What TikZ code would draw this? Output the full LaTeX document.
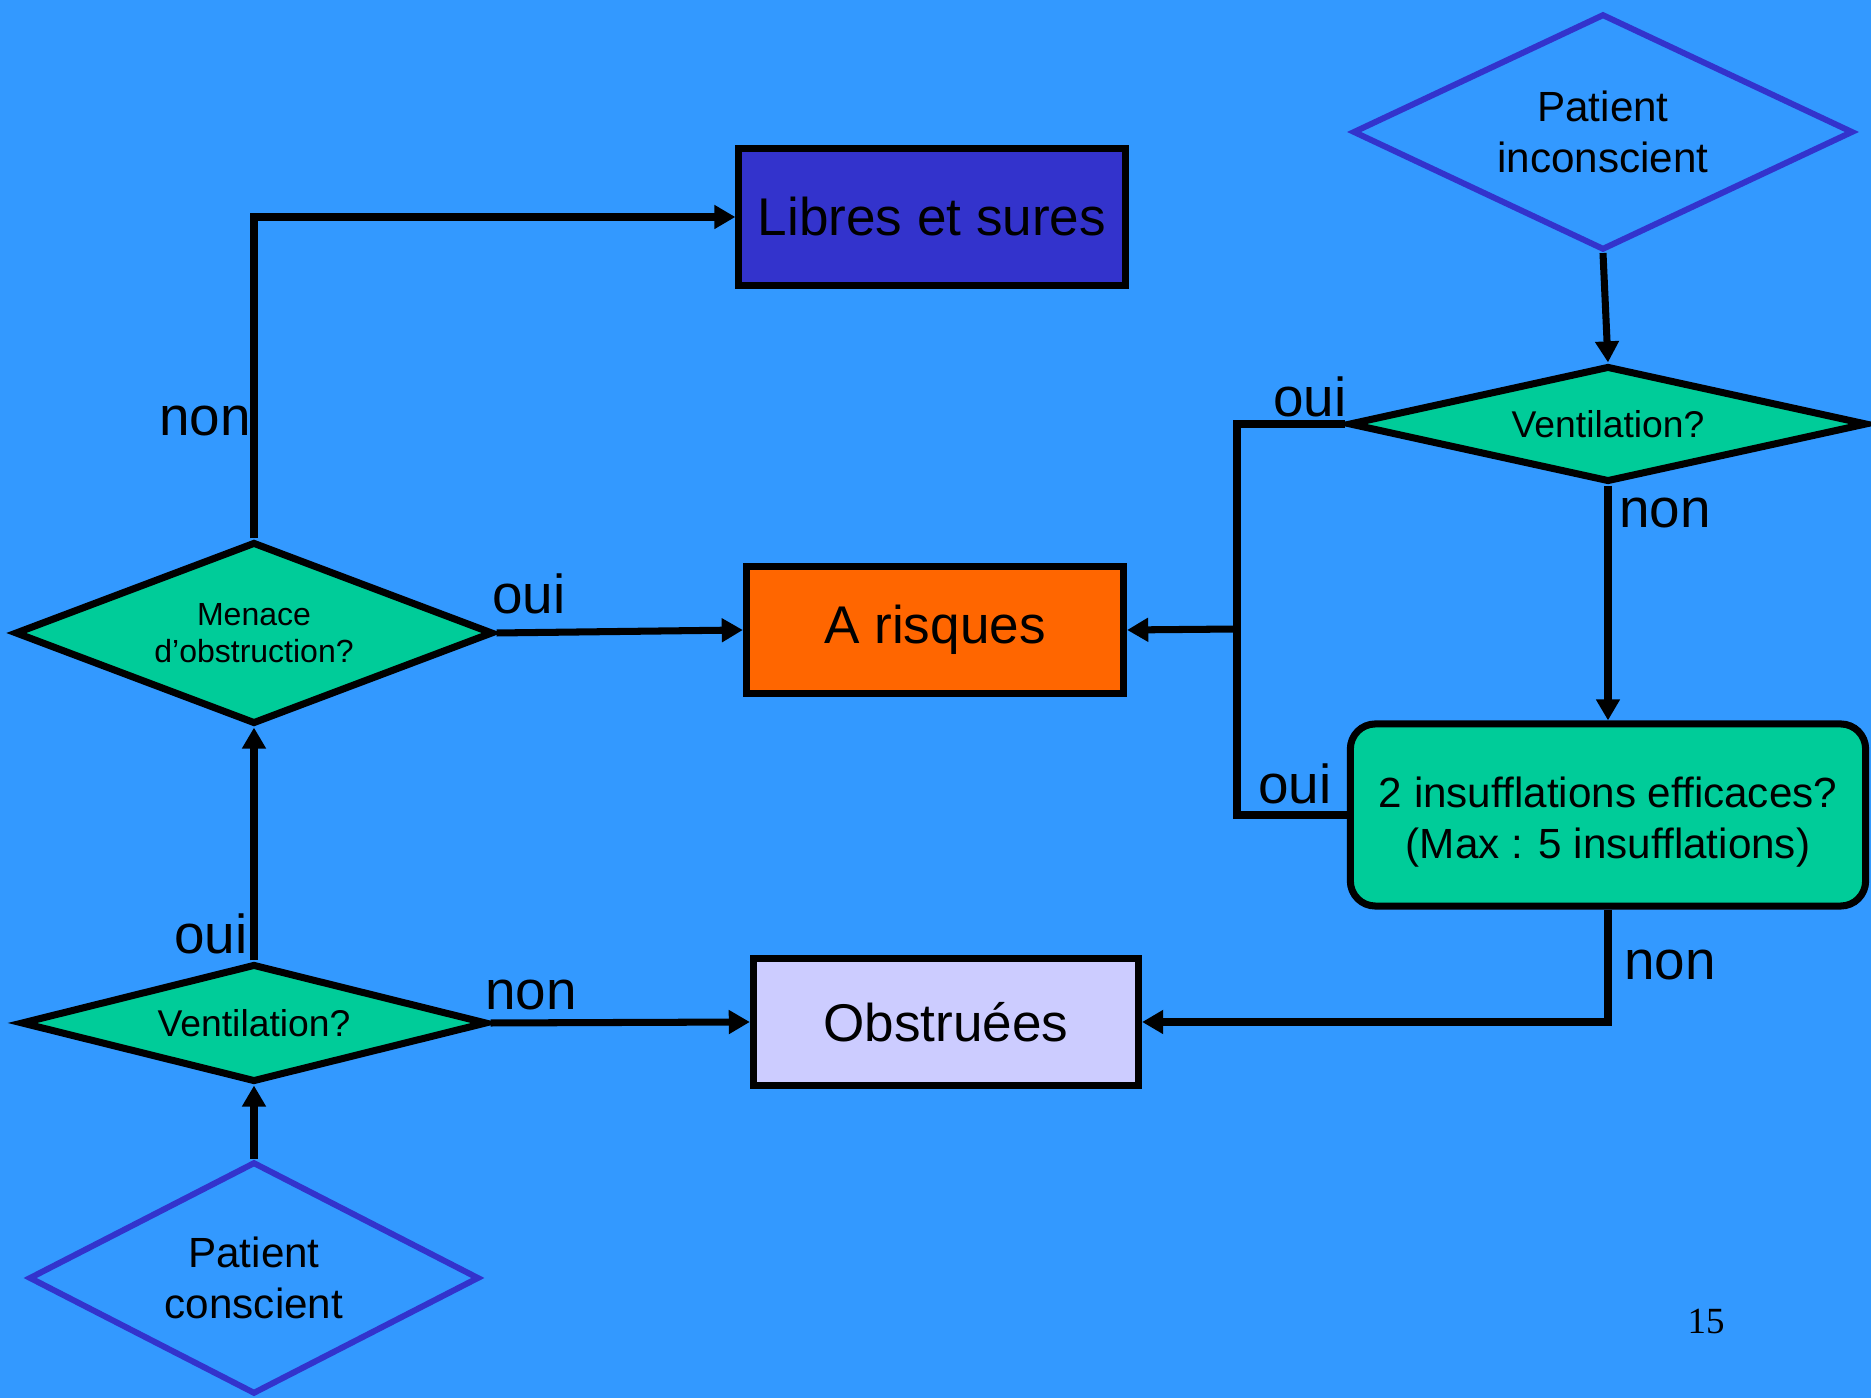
\documentclass[tikz,border=0pt]{standalone}
\usepackage{fontspec}
\setmainfont{Liberation Sans}
\newfontfamily\pagefont{Liberation Serif}
\usetikzlibrary{shapes.geometric,arrows.meta}
\definecolor{bgblue}{HTML}{3399FF}
\definecolor{qgreen}{HTML}{00CC99}
\definecolor{deepblue}{HTML}{3333CC}
\definecolor{riskorange}{HTML}{FF6600}
\definecolor{lavender}{HTML}{CCCCFF}
\tikzset{
  start/.style={shape=diamond, draw=deepblue, line width=1.7pt, inner sep=0pt, align=center,
    font=\fontsize{12}{14.5}\selectfont},
  question/.style={shape=diamond, draw=black, fill=qgreen, line width=2pt, inner sep=0pt, align=center},
  outcome/.style={shape=rectangle, draw=black, line width=2pt, inner sep=0pt, align=center,
    font=\fontsize{15.1}{18}\selectfont},
  flow/.style={line width=2pt, draw=black},
  arr/.style={flow, -{Triangle[length=6pt,width=6.5pt]}},
  lbl/.style={inner sep=0pt, font=\fontsize{15.6}{18}\selectfont},
}
\begin{document}
\begin{tikzpicture}[x=0.01cm, y=-0.01cm]
  % background
  \fill[bgblue] (0,0) rectangle (1871,1398);
  \useasboundingbox (0,0) rectangle (1871,1398);

  % conscious patient branch
  \node[start, aspect=1.94, minimum width=4.50cm, minimum height=2.32cm] (pc) at (254,1278) {Patient\\conscient};
  \node[question, aspect=3.95, minimum width=4.66cm, minimum height=1.18cm, font=\fontsize{10.6}{12}\selectfont] (vl) at (254,1023) {Ventilation?};
  \node[question, aspect=2.62, minimum width=4.78cm, minimum height=1.82cm, font=\fontsize{9.1}{10.4}\selectfont] (me) at (254,633) {Menace\\d'obstruction?};

  % outcomes
  \node[outcome, fill=deepblue, minimum width=3.86cm, minimum height=1.36cm] (lib) at (932,217) {Libres et sures};
  \node[outcome, fill=riskorange, minimum width=3.77cm, minimum height=1.27cm] (ar) at (935,630) {A risques};
  \node[outcome, fill=lavender, minimum width=3.85cm, minimum height=1.26cm] (ob) at (946,1022) {Obstruées};

  % unconscious patient branch
  \node[start, aspect=2.12, minimum width=5.00cm, minimum height=2.36cm] (pi) at (1603,132) {Patient\\inconscient};
  \node[question, aspect=4.47, minimum width=5.18cm, minimum height=1.16cm, font=\fontsize{10.6}{12}\selectfont] (vr) at (1608,424) {Ventilation?};
  \node[shape=rectangle, draw=black, fill=qgreen, line width=2pt, rounded corners=0.25cm, inner sep=0pt,
        minimum width=5.15cm, minimum height=1.82cm, align=center, font=\fontsize{12}{14.5}\selectfont]
        (ins) at (1608,815) {\rule{0pt}{12.5pt}2 insufflations efficaces?\\(Max : 5 insufflations)};

  % connectors, conscious side
  \draw[arr] (pc.north) -- (vl.south);
  \draw[arr] (vl.north) -- (me.south);
  \draw[arr] (vl.east) -- (ob.west);
  \draw[arr] (me.east) -- (ar.west);
  \draw[arr] (me.north) -- (me.north |- lib.west) -- (lib.west);

  % connectors, unconscious side
  \coordinate (bus) at (1237,629);
  \draw[arr] (pi.south) -- (vr.north);
  \draw[arr] (vr.south) -- (ins.north);
  \draw[flow] (vr.west) -- (bus |- vr.west) -- (bus |- ins.west) -- (ins.west);
  \draw[arr] (bus) -- (ar.east);
  \draw[arr] (ins.south) -- (ins.south |- ob.east) -- (ob.east);

  % branch labels
  \node[lbl] (l1) at (205,421) {non};
  \node[lbl] (l2) at (529,594) {oui};
  \node[lbl] (l3) at (211,934) {oui};
  \node[lbl] (l4) at (531,995) {non};
  \node[lbl] (l5) at (1310,397) {oui};
  \node[lbl] (l6) at (1665,513) {non};
  \node[lbl] (l7) at (1295,784) {oui};
  \node[lbl] (l8) at (1670,965) {non};

  % page number
  \node[inner sep=0pt, font=\pagefont\fontsize{10.5}{12}\selectfont] (pg) at (1706,1321) {15};
\end{tikzpicture}
\end{document}
